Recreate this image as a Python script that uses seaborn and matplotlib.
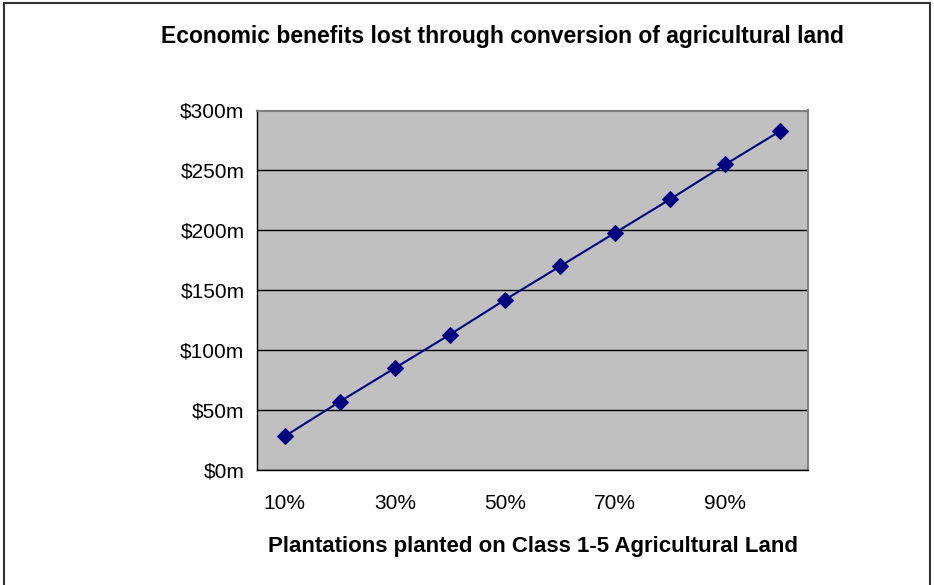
import numpy as np
import pandas as pd
import matplotlib
matplotlib.use("Agg")
import matplotlib.pyplot as plt
from matplotlib.patches import Rectangle
from matplotlib.ticker import FuncFormatter
import seaborn as sns

# dados
plantation_share = ["10%", "20%", "30%", "40%", "50%", "60%", "70%", "80%", "90%", "100%"]
benefits_lost = [28, 57, 85, 113, 142, 170, 198, 226, 255, 283]  # $m
y_ticks = [0, 50, 100, 150, 200, 250, 300]

df = pd.DataFrame({"share": plantation_share, "lost": benefits_lost})

sns.set_theme(style="white")
plt.rcParams["font.family"] = ["Liberation Sans", "DejaVu Sans"]
plt.rcParams.update({"text.color": "black", "xtick.color": "black", "ytick.color": "black",
                     "axes.labelcolor": "black"})

fig = plt.figure(figsize=(9.34, 5.85), dpi=100)
ax = fig.add_axes([257 / 934, 115 / 585, 551 / 934, 359.5 / 585])
ax.set_facecolor("#C0C0C0")

sns.lineplot(data=df, x="share", y="lost", ax=ax, color="#000080", linewidth=1.5,
             marker="D", markersize=8.5, markeredgecolor="#000080", sort=False)

# eixos estilo Excel
ax.set_xlim(-0.5, len(plantation_share) - 0.5)
ax.set_ylim(0, 300)
ax.set_yticks(y_ticks)
ax.yaxis.set_major_formatter(FuncFormatter(lambda v, p: f"${v:.0f}m"))
ax.grid(axis="y", color="black", linewidth=1)
ax.set_axisbelow(True)

ax.set_xticks(range(0, len(plantation_share), 2))
ax.set_xticklabels(plantation_share[::2])
ax.set_xticks(np.arange(-0.5, len(plantation_share), 1), minor=True)
ax.tick_params(axis="x", which="major", length=0, pad=17, labelsize=15)
ax.tick_params(axis="x", which="minor", length=6, width=1, color="black", direction="out")
ax.tick_params(axis="y", length=6, width=1, color="black", direction="out", pad=3, labelsize=15)

for side in ["left", "bottom"]:
    ax.spines[side].set_color("black")
    ax.spines[side].set_linewidth(1)
for side in ["top", "right"]:
    ax.spines[side].set_color("#808080")
    ax.spines[side].set_linewidth(1.5)

ax.set_xlabel("Plantations planted on Class 1-5 Agricultural Land", fontsize=16,
              weight="bold", labelpad=17)
ax.set_ylabel("")

fig.text(502 / 934, 1 - 36 / 585, "Economic benefits lost through conversion of agricultural land",
         ha="center", va="center", fontsize=16.5, weight="bold")

# moldura do gráfico
fig.patches.append(Rectangle((4 / 934, -0.05), 926 / 934, 1.05 - 3 / 585, transform=fig.transFigure,
                             fill=False, edgecolor="#333333", linewidth=1.5))

fig.savefig("out.png", dpi=100)
plt.close(fig)
